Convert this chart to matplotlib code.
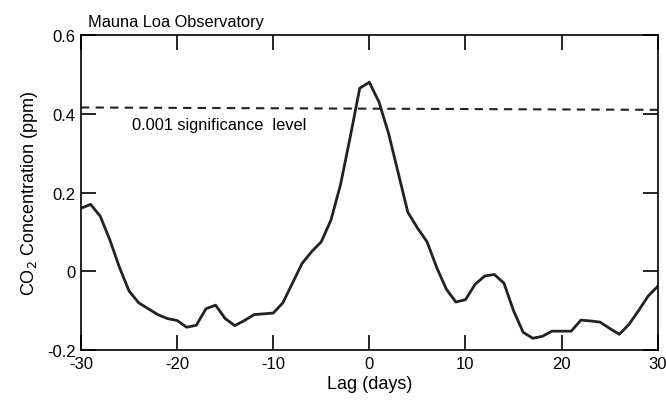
import matplotlib
matplotlib.use("Agg")
import matplotlib.pyplot as plt

lags = list(range(-30, 31))
co2 = [0.16, 0.17, 0.14, 0.08, 0.01, -0.05, -0.08, -0.095, -0.11, -0.12,
       -0.125, -0.142, -0.137, -0.095, -0.086, -0.12, -0.138, -0.125, -0.11, -0.108,
       -0.106, -0.08, -0.03, 0.02, 0.05, 0.075, 0.13, 0.22, 0.34, 0.465,
       0.48, 0.43, 0.35, 0.25, 0.15, 0.11, 0.075, 0.01, -0.045, -0.078,
       -0.072, -0.033, -0.012, -0.008, -0.03, -0.1, -0.155, -0.17, -0.165, -0.152,
       -0.152, -0.152, -0.124, -0.126, -0.129, -0.145, -0.16, -0.135, -0.1, -0.063,
       -0.038]
sig_x = [-30, 30]
sig_y = [0.416, 0.410]

plt.rcParams['font.family'] = ['Liberation Sans', 'DejaVu Sans']

fig = plt.figure(figsize=(6.66, 4.14), dpi=100)
ax = fig.add_axes([0.1216, 0.152, 0.866, 0.761])

ax.plot(lags, co2, color='#222222', lw=2.0)
ax.plot(sig_x, sig_y, color='#222222', lw=1.5, ls=(0, (4, 3)))
ax.text(-24.7, 0.373, '0.001 significance  level', fontsize=11.8, va='center', ha='left')

ax.set_xlim(-30, 30)
ax.set_ylim(-0.2, 0.6)
ax.set_xticks([-30, -20, -10, 0, 10, 20, 30])
ax.set_xticklabels(['-30', '-20', '-10', '0', '10', '20', '30'])
ax.set_yticks([-0.2, 0, 0.2, 0.4, 0.6])
ax.set_yticklabels(['-0.2', '0', '0.2', '0.4', '0.6'])
ax.tick_params(direction='in', length=11, width=1.2, top=True, right=True,
               labelsize=12, pad=4)
for s in ax.spines.values():
    s.set_linewidth(1.2)

ax.set_xlabel('Lag (days)', fontsize=13, labelpad=3)
ax.set_ylabel('CO$_2$ Concentration (ppm)', fontsize=13, labelpad=5)
fig.text(0.132, 0.945, 'Mauna Loa Observatory', fontsize=11.8, ha='left', va='center')

fig.savefig('out.png', dpi=100)
